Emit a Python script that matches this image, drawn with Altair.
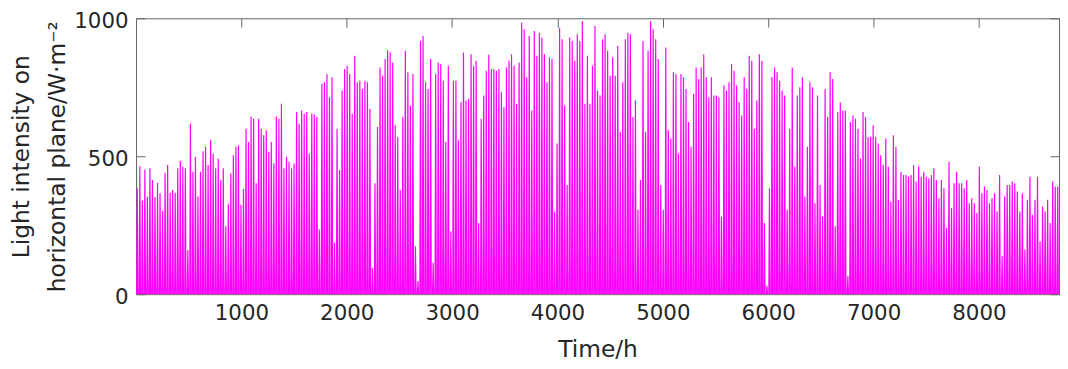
import altair as alt
import pandas as pd

# Daily peak irradiance (W/m^2), one value per day (365 days)
peaks_a = [384,464,340,452,352,456,414,352,404,366,302,440,468,368,378,368,456,484,462,456,160,618,444,498,354,444,518,534,468,560,510,456,492]
peaks_b = [414,456,246,328,438,504,534,540,324,382,600,552,644,636,402,636,600,576,594,516,552,474,644,636,690,456,498,480,456,474,660,618,666,654,660,510,654]
peaks_c = [652,642,234,762,768,798,714,786,186,600,450,738,816,828,798,654,864,768,774,744,774,768,672,96,402,606,822,792,852,884,876,840,612,570,378,642,882]
peaks_d = [804,684,798,174,48,918,936,768,744,852,114,798,840,834,774,552,828,228,774,774,558,696,876,702,708,870,828,846,258,636,720,810,868,816,816,810,816]
peaks_e = [732,678,822,846,870,828,690,840,984,960,786,936,666,954,864,948,930,870,768,858,852,300,546,966,924,684,396,930,918,846,942,918,990,690,864,690,828]
peaks_f = [972,738,720,924,942,882,792,858,792,900,588,768,924,948,942,642,702,306,414,918,588,882,990,960,924,852,396,306,894,594,564,804,798,510,798,786,744,624]
peaks_g = [534,726,822,780,822,870,786,714,786,720,720,714,282,756,738,768,834,810,756,696,648,786,744,864,846,600,702,870,846,258,30,384,786,822,804,774,738]
peaks_h = [720,306,600,822,462,720,750,786,354,534,768,750,330,720,396,282,744,642,804,780,246,660,696,666,666,66,624,648,636,600,492,660,642,570,570,612,570]
peaks_i = [546,504,468,564,462,336,576,534,342,444,432,432,426,432,468,408,462,426,444,426,420,432,456,414,348,414,384,240,480,312,402,444,402,402,384,414,330]
peaks_j = [348,330,294,462,366,390,378,330,348,366,300,432,138,354,396,396,408,402,372,300,366,162,342,426,288,342,426,192,318,300,342,258,408,390,390]

peaks = peaks_a + peaks_b + peaks_c + peaks_d + peaks_e + peaks_f + peaks_g + peaks_h + peaks_i + peaks_j

x_ticks = [1000, 2000, 3000, 4000, 5000, 6000, 7000, 8000]
y_ticks = [0, 500, 1000]

# Night hours are zero; each day rises from sunrise to its noon peak and back to zero at sunset
rows = []
for d, p in enumerate(peaks):
    rows.append({"hour": d * 24 + 6, "v": 0})
    rows.append({"hour": d * 24 + 12, "v": p})
    rows.append({"hour": d * 24 + 18, "v": 0})
df = pd.DataFrame(rows)

FONT = "DejaVu Sans"
TXT = "#262626"
AX = "#666666"
LBL = 21.5
TTL = 23.5

xs = alt.Scale(domain=[0, 8760], nice=False, zero=False)
ys = alt.Scale(domain=[0, 1000], nice=False)

base = alt.Chart(df)

main = base.mark_line(color="#FF00FF", strokeWidth=1.2, clip=True).encode(
    x=alt.X("hour:Q", scale=xs, axis=alt.Axis(
        values=x_ticks, format="d", title="Time/h", orient="bottom", domain=False,
        ticks=False, grid=False, labelFontSize=LBL, titleFontSize=TTL,
        labelFont=FONT, titleFont=FONT, labelColor=TXT, titleColor=TXT,
        titleFontWeight="normal", labelPadding=9, titlePadding=13)),
    y=alt.Y("v:Q", scale=ys, axis=alt.Axis(
        values=y_ticks, format="d", title=["Light intensity on", "horizontal plane/W·m⁻²"],
        orient="left", domain=False, ticks=False, grid=False, labelFontSize=LBL,
        titleFontSize=TTL, labelFont=FONT, titleFont=FONT, labelColor=TXT,
        titleColor=TXT, titleFontWeight="normal", labelPadding=8, labelOffset=3,
        titlePadding=4, titleLineHeight=37)),
    order="hour:Q",
)

ticks1 = base.mark_line(strokeOpacity=0).encode(
    x=alt.X("hour:Q", scale=xs, axis=alt.Axis(
        values=x_ticks, orient="top", labels=False, title=None, domain=False,
        ticks=True, tickSize=9, tickColor=AX, offset=-9, grid=False)),
    y=alt.Y("v:Q", scale=ys, axis=alt.Axis(
        values=y_ticks, orient="left", labels=False, title=None, domain=False,
        ticks=True, tickSize=9, tickColor=AX, offset=-9, grid=False)),
)

ticks2 = base.mark_line(strokeOpacity=0).encode(
    x=alt.X("hour:Q", scale=xs, axis=None),
    y=alt.Y("v:Q", scale=ys, axis=alt.Axis(
        values=y_ticks, orient="right", labels=False, title=None, domain=False,
        ticks=True, tickSize=9, tickColor=AX, offset=-9, grid=False)),
)

chart = alt.layer(main, ticks1, ticks2).resolve_axis(
    x="independent", y="independent"
).properties(
    width=930, height=278,
    autosize=alt.AutoSizeParams(type="none"),
    padding={"left": 129, "top": 9, "right": 1, "bottom": 72},
).configure_view(stroke=AX, strokeWidth=1)

chart.save("out.html", embed_options={"renderer": "svg", "actions": False})
